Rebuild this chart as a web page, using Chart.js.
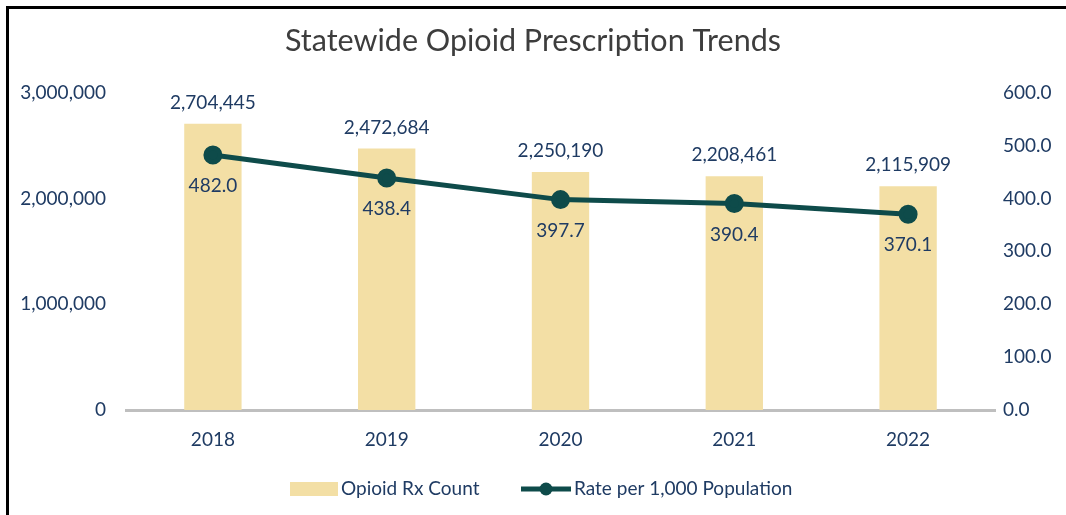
<!DOCTYPE html>
<html>
<head>
<meta charset="utf-8">
<title>Statewide Opioid Prescription Trends</title>
<script src="https://cdn.jsdelivr.net/npm/chart.js@4.4.1/dist/chart.umd.min.js"></script>
<style>
  html, body { margin: 0; padding: 0; background: #fff; overflow: hidden; }
  #wrap { position: relative; width: 1066px; height: 515px; }
  #frame {
    position: absolute; left: 6px; top: 6px; width: 1100px; height: 600px;
    border-left: 3px solid #000; border-top: 3px solid #000; pointer-events: none;
  }
</style>
</head>
<body>
<div id="wrap">
  <canvas id="grafico" width="1066" height="515"></canvas>
  <div id="frame"></div>
</div>
<script>
// Dados
const years = ['2018', '2019', '2020', '2021', '2022'];
const rxCount = [2704445, 2472684, 2250190, 2208461, 2115909];
const ratePer1000 = [482.0, 438.4, 397.7, 390.4, 370.1];
const countTicks = [0, 1000000, 2000000, 3000000];
const rateTicks = [0, 100, 200, 300, 400, 500, 600];

const textColor = '#1f3b63';
const barColor = '#f3dfa5';
const lineColor = '#0e4b4a';
const fontFamily = 'Lato, "Open Sans", sans-serif';

// Rótulos de valor (acima das barras, abaixo dos pontos)
const valueLabels = {
  id: 'valueLabels',
  afterDatasetsDraw(chart) {
    const ctx = chart.ctx;
    ctx.save();
    ctx.font = '19px ' + fontFamily;
    ctx.fillStyle = textColor;
    ctx.textAlign = 'center';
    ctx.textBaseline = 'middle';
    chart.getDatasetMeta(1).data.forEach((bar, i) => {
      ctx.fillText(rxCount[i].toLocaleString('en-US'), bar.x, bar.y - 21);
    });
    chart.getDatasetMeta(0).data.forEach((pt, i) => {
      ctx.fillText(ratePer1000[i].toFixed(1), pt.x, pt.y + 31);
    });
    ctx.restore();
  }
};

// Legenda desenhada à mão (linha com marcador)
const customLegend = {
  id: 'customLegend',
  afterDraw(chart) {
    const ctx = chart.ctx;
    const y = 489;
    ctx.save();
    ctx.font = '19px ' + fontFamily;
    ctx.textBaseline = 'middle';
    ctx.textAlign = 'left';

    ctx.fillStyle = barColor;
    ctx.fillRect(290, y - 7, 48, 14);
    ctx.fillStyle = textColor;
    ctx.fillText(chart.data.datasets[1].label, 341, y);

    ctx.strokeStyle = lineColor;
    ctx.lineWidth = 5;
    ctx.beginPath();
    ctx.moveTo(521, y);
    ctx.lineTo(571, y);
    ctx.stroke();
    ctx.fillStyle = lineColor;
    ctx.beginPath();
    ctx.arc(546, y, 6.5, 0, Math.PI * 2);
    ctx.fill();
    ctx.fillStyle = textColor;
    ctx.fillText(chart.data.datasets[0].label, 574, y);
    ctx.restore();
  }
};

const canvas = document.getElementById('grafico');
new Chart(canvas, {
  type: 'bar',
  data: {
    labels: years,
    datasets: [
      {
        type: 'line',
        label: 'Rate per 1,000 Population',
        data: ratePer1000,
        yAxisID: 'yRate',
        borderColor: lineColor,
        backgroundColor: lineColor,
        borderWidth: 5,
        pointRadius: 7,
        pointHoverRadius: 7,
        tension: 0,
        order: 0
      },
      {
        type: 'bar',
        label: 'Opioid Rx Count',
        data: rxCount,
        yAxisID: 'yCount',
        backgroundColor: barColor,
        barPercentage: 0.33,
        categoryPercentage: 1,
        order: 1
      }
    ]
  },
  options: {
    responsive: false,
    animation: false,
    layout: { padding: { left: 0, right: 0, top: 0, bottom: 0 } },
    plugins: {
      legend: { display: false },
      tooltip: { enabled: false },
      title: {
        display: true,
        text: 'Statewide Opioid Prescription Trends',
        color: '#3d3d3d',
        font: { family: fontFamily, size: 30.5, weight: 'normal' },
        padding: { top: 23, bottom: 33 }
      }
    },
    scales: {
      x: {
        grid: { display: false, drawTicks: false },
        border: { display: true, color: '#bfbfbf', width: 3 },
        ticks: { color: textColor, font: { family: fontFamily, size: 19 }, padding: 18 },
        afterFit(scale) { scale.height = 105; }
      },
      yCount: {
        position: 'left',
        min: 0,
        max: 3000000,
        grid: { display: false, drawTicks: false },
        border: { display: false },
        afterBuildTicks(scale) { scale.ticks = countTicks.map(v => ({ value: v })); },
        ticks: {
          color: textColor,
          font: { family: fontFamily, size: 19 },
          padding: 20,
          callback: v => v.toLocaleString('en-US')
        },
        afterFit(scale) { scale.width = 126; }
      },
      yRate: {
        position: 'right',
        min: 0,
        max: 600,
        grid: { display: false, drawTicks: false },
        border: { display: false },
        afterBuildTicks(scale) { scale.ticks = rateTicks.map(v => ({ value: v })); },
        ticks: {
          color: textColor,
          font: { family: fontFamily, size: 19 },
          padding: 8,
          callback: v => v.toFixed(1)
        },
        afterFit(scale) { scale.width = 71; }
      }
    }
  },
  plugins: [valueLabels, customLegend]
});
</script>
</body>
</html>
